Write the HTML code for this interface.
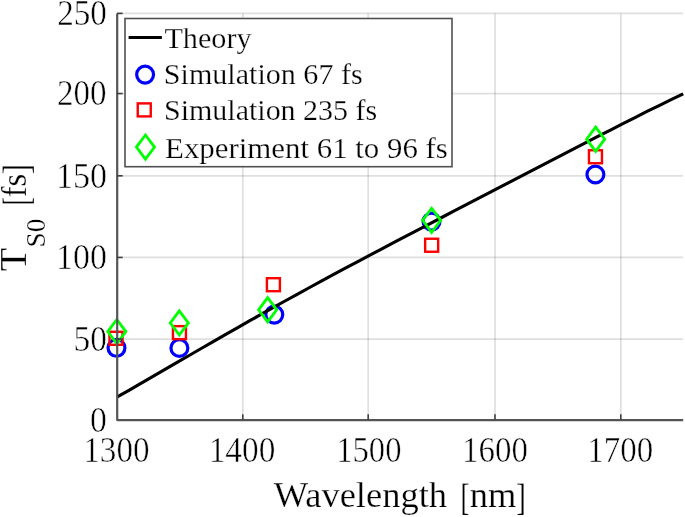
<!DOCTYPE html>
<html><head><meta charset="utf-8">
<style>
html,body{margin:0;padding:0;background:#fff;width:685px;height:517px;overflow:hidden}
svg{display:block;will-change:transform}
text{font-family:"Liberation Serif",serif;fill:#000;stroke:#fff;stroke-width:0.25px}
text.tk{stroke-width:0.5px}
</style></head>
<body>
<svg width="685" height="517" viewBox="0 0 685 517">
<rect x="0" y="0" width="685" height="517" fill="#fff"/>
<g>
<g stroke="#262626" stroke-opacity="0.15" stroke-width="1.7" fill="none">
<line x1="117" y1="13.4" x2="683" y2="13.4"/>
<line x1="117" y1="93.55" x2="683" y2="93.55"/>
<line x1="117" y1="175.8" x2="683" y2="175.8"/>
<line x1="117" y1="257.45" x2="683" y2="257.45"/>
<line x1="117" y1="339.1" x2="683" y2="339.1"/>
<line x1="242.8" y1="13.4" x2="242.8" y2="419.85"/>
<line x1="368.2" y1="13.4" x2="368.2" y2="419.85"/>
<line x1="495.0" y1="13.4" x2="495.0" y2="419.85"/>
<line x1="620.8" y1="13.4" x2="620.8" y2="419.85"/>
</g>
<g stroke="#0000ff" stroke-width="3.2" fill="none"><circle cx="116.5" cy="347.8" r="8.45"/><circle cx="179.4" cy="348.0" r="8.45"/><circle cx="274.3" cy="314.6" r="8.45"/><circle cx="431.5" cy="221.6" r="8.45"/><circle cx="595.4" cy="174.5" r="8.45"/></g>
<polyline fill="none" stroke="#000" stroke-width="3.1" stroke-linejoin="round" points="116.8,397.17 128.9,390.29 140.9,383.37 153.0,376.41 165.0,369.43 177.1,362.45 189.1,355.47 201.2,348.51 213.2,341.57 225.3,334.66 237.3,327.79 249.4,320.96 261.4,314.18 273.5,307.44 285.5,300.75 297.6,294.10 309.6,287.50 321.7,280.95 333.7,274.44 345.8,267.96 357.8,261.53 369.9,255.13 381.9,248.77 394.0,242.42 406.0,236.11 418.1,229.81 430.1,223.52 442.2,217.25 454.2,210.99 466.3,204.73 478.3,198.47 490.4,192.22 502.4,185.96 514.5,179.70 526.5,173.44 538.6,167.18 550.6,160.92 562.7,154.67 574.7,148.42 586.8,142.18 598.8,135.97 610.9,129.78 622.9,123.63 635.0,117.53 647.0,111.49 659.1,105.53 671.1,99.66 683.2,93.90"/>
<g stroke="#ff0000" stroke-width="2.4" fill="none"><rect x="109.50" y="331.80" width="13.0" height="13.0"/><rect x="172.95" y="326.15" width="13.0" height="13.0"/><rect x="266.90" y="278.20" width="13.0" height="13.0"/><rect x="425.15" y="238.75" width="13.0" height="13.0"/><rect x="588.95" y="150.25" width="13.0" height="13.0"/></g>
<g stroke="#00ff00" stroke-width="2.8" fill="none"><path d="M116.8,319.50 L125.85,331.6 L116.8,343.70 L107.75,331.6 Z"/><path d="M179.3,310.80 L188.35,322.9 L179.3,335.00 L170.25,322.9 Z"/><path d="M267.65,297.70 L276.70,309.8 L267.65,321.90 L258.60,309.8 Z"/><path d="M431.65,208.25 L440.70,220.35 L431.65,232.45 L422.60,220.35 Z"/><path d="M595.65,127.10 L604.70,139.2 L595.65,151.30 L586.60,139.2 Z"/></g>
<g stroke="#555" stroke-width="2.2" fill="none" stroke-linejoin="round">
<path d="M117.2,13.4 L117.2,420.1 L683.2,420.1"/>
</g>
<g stroke="#404040" stroke-width="1.6" fill="none">
<line x1="117" y1="13.4" x2="122.7" y2="13.4"/>
<line x1="117" y1="93.55" x2="122.7" y2="93.55"/>
<line x1="117" y1="175.8" x2="122.7" y2="175.8"/>
<line x1="117" y1="257.45" x2="122.7" y2="257.45"/>
<line x1="117" y1="339.1" x2="122.7" y2="339.1"/>
<line x1="242.8" y1="419.8" x2="242.8" y2="414.2"/>
<line x1="368.2" y1="419.8" x2="368.2" y2="414.2"/>
<line x1="495.0" y1="419.8" x2="495.0" y2="414.2"/>
<line x1="620.8" y1="419.8" x2="620.8" y2="414.2"/>
</g>
<rect x="125" y="18.5" width="327" height="148.2" fill="#fff" stroke="#505050" stroke-width="1.6"/>
<line x1="128.6" y1="37.5" x2="161.9" y2="37.5" stroke="#000" stroke-width="3"/>
<g stroke="#0000ff" stroke-width="3.2" fill="none"><circle cx="145.1" cy="74.6" r="8.45"/></g><g stroke="#ff0000" stroke-width="2.4" fill="none"><rect x="137.75" y="103.40" width="13.0" height="13.0"/></g><g stroke="#00ff00" stroke-width="2.8" fill="none"><path d="M145.45,135.00 L154.50,147.1 L145.45,159.20 L136.40,147.1 Z"/></g>
<g class="txt">
<text x="57.14" y="24.53" font-size="35.5" textLength="49.72" lengthAdjust="spacingAndGlyphs" class="tk">250</text>
<text x="57.05" y="105.43" font-size="35.5" textLength="49.61" lengthAdjust="spacingAndGlyphs" class="tk">200</text>
<text x="55.91" y="187.63" font-size="35.5" textLength="51.09" lengthAdjust="spacingAndGlyphs" class="tk">150</text>
<text x="55.91" y="269.13" font-size="35.5" textLength="50.98" lengthAdjust="spacingAndGlyphs" class="tk">100</text>
<text x="73.56" y="350.83" font-size="35.5" textLength="33.30" lengthAdjust="spacingAndGlyphs" class="tk">50</text>
<text x="89.91" y="431.73" font-size="35.5" textLength="16.87" lengthAdjust="spacingAndGlyphs" class="tk">0</text>
<text x="83.28" y="462.00" font-size="35.5" textLength="66.38" lengthAdjust="spacingAndGlyphs" class="tk">1300</text>
<text x="208.67" y="462.00" font-size="35.5" textLength="66.70" lengthAdjust="spacingAndGlyphs" class="tk">1400</text>
<text x="336.23" y="462.00" font-size="35.5" textLength="65.31" lengthAdjust="spacingAndGlyphs" class="tk">1500</text>
<text x="462.00" y="462.00" font-size="35.5" textLength="65.95" lengthAdjust="spacingAndGlyphs" class="tk">1600</text>
<text x="587.20" y="462.00" font-size="35.5" textLength="65.95" lengthAdjust="spacingAndGlyphs" class="tk">1700</text>
<text x="273.66" y="506.90" font-size="36" textLength="173.41" lengthAdjust="spacingAndGlyphs">Wavelength</text>
<text x="460.60" y="509.55" font-size="38.5" textLength="8.97" lengthAdjust="spacingAndGlyphs">[</text>
<text x="469.76" y="506.90" font-size="36" textLength="46.61" lengthAdjust="spacingAndGlyphs">nm</text>
<text x="516.26" y="509.55" font-size="38.5" textLength="9.57" lengthAdjust="spacingAndGlyphs">]</text>
<text x="164.46" y="48.00" font-size="29.5" textLength="87.06" lengthAdjust="spacingAndGlyphs">Theory</text>
<text x="163.89" y="84.00" font-size="29.5" textLength="198.80" lengthAdjust="spacingAndGlyphs">Simulation 67 fs</text>
<text x="163.99" y="120.40" font-size="29.5" textLength="213.29" lengthAdjust="spacingAndGlyphs">Simulation 235 fs</text>
<text x="165.11" y="157.80" font-size="29.5" textLength="282.70" lengthAdjust="spacingAndGlyphs">Experiment 61 to 96 fs</text>
<g transform="translate(25.60,0) rotate(-90)"><text x="-271.29" y="0.00" font-size="37" textLength="23.32" lengthAdjust="spacingAndGlyphs">T</text></g>
<g transform="translate(44.70,0) rotate(-90)"><text x="-247.52" y="0.00" font-size="28" textLength="28.76" lengthAdjust="spacingAndGlyphs">S0</text></g>
<g transform="translate(29.20,0) rotate(-90)"><text x="-205.20" y="0.00" font-size="38.5" textLength="8.08" lengthAdjust="spacingAndGlyphs">[</text></g>
<g transform="translate(25.60,0) rotate(-90)"><text x="-197.30" y="0.00" font-size="35" textLength="23.58" lengthAdjust="spacingAndGlyphs">fs</text></g>
<g transform="translate(29.20,0) rotate(-90)"><text x="-174.30" y="0.00" font-size="38.5" textLength="10.17" lengthAdjust="spacingAndGlyphs">]</text></g>
</g>
</g>
</svg>
</body></html>
